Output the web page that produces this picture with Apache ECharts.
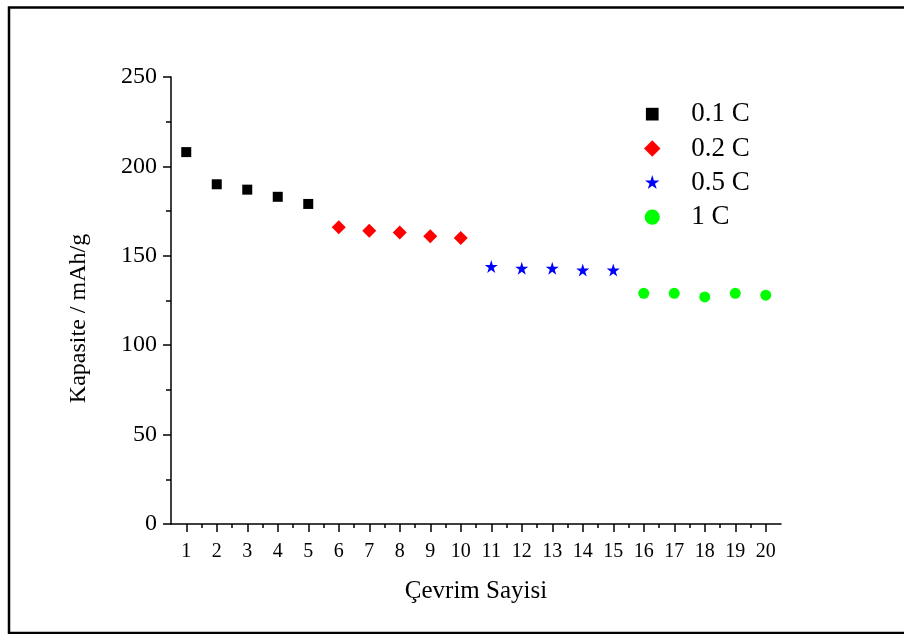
<!DOCTYPE html>
<html lang="tr">
<head>
  <meta charset="UTF-8">
  <script type="text/javascript" src="https://cdn.jsdelivr.net/npm/echarts@6.0.0/dist/echarts.min.js"></script>
  <title>Kapasite - Çevrim Sayisi</title>
  <style type="text/css">
    * { margin: 0; padding: 0; }
    html, body { width: 100%; height: 100%; background: #fff; }
    #chartbox { width: 904px; height: 634px; }
  </style>
</head>
<body>
<div id="chartbox"></div>
<script type="text/javascript">
  // çevrim numaraları (x ekseni)
  const cycles = [1, 2, 3, 4, 5, 6, 7, 8, 9, 10, 11, 12, 13, 14, 15, 16, 17, 18, 19, 20]
  const halfTicks = [1.5, 2.5, 3.5, 4.5, 5.5, 6.5, 7.5, 8.5, 9.5, 10.5, 11.5, 12.5, 13.5, 14.5, 15.5, 16.5, 17.5, 18.5, 19.5]

  // her akım hızı için kapasite (mAh/g)
  const rateNames = ['0.1 C', '0.2 C', '0.5 C', '1 C']
  const cycles01 = [1, 2, 3, 4, 5]
  const cap01 = [208, 190, 187, 183, 179]
  const cycles02 = [6, 7, 8, 9, 10]
  const cap02 = [166, 164, 163, 161, 160]
  const cycles05 = [11, 12, 13, 14, 15]
  const cap05 = [144, 143, 143, 142, 142]
  const cycles1 = [16, 17, 18, 19, 20]
  const cap1 = [129, 129, 127, 129, 128]

  const FONT = 'Liberation Serif'
  const starPath = 'path://M50 0 L61.17 34.63 L97.55 34.55 L68.07 55.87 L79.39 90.45 L50 69 L20.61 90.45 L31.93 55.87 L2.45 34.55 L38.83 34.63 Z'

  // legend ikonları: aynı kutuda farklı boyut için boş M noktalarıyla dolgu
  const legendIcons = [
    'path://M0 0M13 13M1.5 1.5H11.5V11.5H1.5Z',
    'path://M6.5 0L13 6.5L6.5 13L0 6.5Z',
    'path://M0 -4M100 104M50 0 L61.17 34.63 L97.55 34.55 L68.07 55.87 L79.39 90.45 L50 69 L20.61 90.45 L31.93 55.87 L2.45 34.55 L38.83 34.63 Z',
    'path://M0 0M13 13M6.5 0.5A6 6 0 1 1 6.49 0.5Z'
  ]

  function pairs(xs, ys) {
    return xs.map((x, i) => [x, ys[i]])
  }

  let myChart = echarts.init(document.getElementById('chartbox'), null, {renderer: 'canvas'})

  let option = {
    backgroundColor: '#fff',
    animation: false,
    textStyle: {fontFamily: FONT},
    graphic: [{
      type: 'rect',
      shape: {x: 9, y: 7.5, width: 1000, height: 625.5},
      style: {fill: 'none', stroke: '#000', lineWidth: 2.5},
      silent: true
    }],
    grid: {
      left: 171,
      top: 77,
      right: 123,
      bottom: 110,
      containLabel: false
    },
    legend: {
      orient: 'vertical',
      left: 639,
      top: 92,
      itemWidth: 68,
      itemHeight: 16.5,
      itemGap: 0,
      symbolKeepAspect: true,
      textStyle: {fontFamily: FONT, fontSize: 27, color: '#000', lineHeight: 34.3},
      data: rateNames.map((n, i) => ({name: n, icon: legendIcons[i]}))
    },
    xAxis: [{
      type: 'value',
      min: 0.5,
      max: 20.5,
      name: 'Çevrim Sayisi',
      nameLocation: 'middle',
      nameGap: 55,
      nameTextStyle: {fontFamily: FONT, fontSize: 25, color: '#000'},
      axisLine: {show: true, lineStyle: {color: '#000', width: 1.5}},
      axisTick: {show: true, length: 8, customValues: cycles, lineStyle: {color: '#000', width: 1.5}},
      axisLabel: {customValues: cycles, margin: 18, fontFamily: FONT, fontSize: 20, color: '#000'},
      splitLine: {show: false}
    }, {
      // yarım değerlerdeki küçük çentikler
      type: 'value',
      min: 0.5,
      max: 20.5,
      position: 'bottom',
      axisLine: {show: false},
      axisTick: {show: true, length: 4, customValues: halfTicks, lineStyle: {color: '#000', width: 1.5}},
      axisLabel: {show: false},
      splitLine: {show: false}
    }],
    yAxis: {
      type: 'value',
      min: 0,
      max: 250,
      interval: 50,
      name: 'Kapasite / mAh/g',
      nameLocation: 'middle',
      nameGap: 80,
      nameTextStyle: {fontFamily: FONT, fontSize: 24, color: '#000', padding: [0, 36, 0, 0]},
      axisLine: {show: true, lineStyle: {color: '#000', width: 1.5}},
      axisTick: {show: true, length: 8, lineStyle: {color: '#000', width: 1.5}},
      minorTick: {show: true, splitNumber: 2, length: 5, lineStyle: {color: '#000', width: 1.5}},
      axisLabel: {margin: 14, fontFamily: FONT, fontSize: 24, color: '#000'},
      splitLine: {show: false}
    },
    series: [{
      name: rateNames[0],
      type: 'scatter',
      symbol: 'rect',
      symbolSize: 10,
      itemStyle: {color: '#000000', opacity: 1},
      data: pairs(cycles01, cap01)
    }, {
      name: rateNames[1],
      type: 'scatter',
      symbol: 'diamond',
      symbolSize: 14,
      itemStyle: {color: '#ff0000', opacity: 1},
      data: pairs(cycles02, cap02)
    }, {
      name: rateNames[2],
      type: 'scatter',
      symbol: starPath,
      symbolSize: 13,
      itemStyle: {color: '#0000ff', opacity: 1},
      data: pairs(cycles05, cap05)
    }, {
      name: rateNames[3],
      type: 'scatter',
      symbol: 'circle',
      symbolSize: 11,
      itemStyle: {color: '#00ff00', opacity: 1},
      data: pairs(cycles1, cap1)
    }]
  }

  myChart.setOption(option)
</script>
</body>
</html>
